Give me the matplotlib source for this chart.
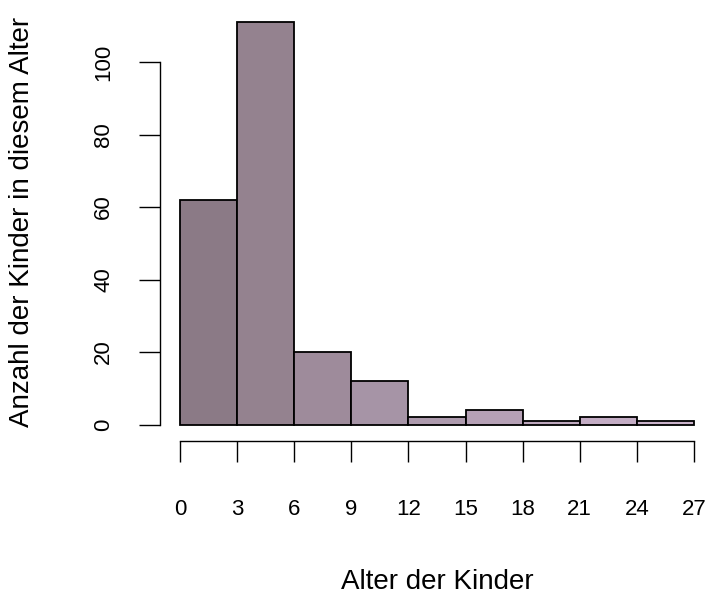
import matplotlib
matplotlib.use("Agg")
import matplotlib.pyplot as plt
import numpy as np

## Data ##
bin_edges = [0, 3, 6, 9, 12, 15, 18, 21, 24, 27]
counts = [62, 111, 20, 12, 2, 4, 1, 2, 1]
bar_colors = ["#8b7a86", "#94828f", "#9e8b9b", "#a694a6", "#ae9bae",
              "#b6a1b6", "#bea8be", "#c4adc5", "#cab3cb"]
x_ticks = [0, 3, 6, 9, 12, 15, 18, 21, 24, 27]
y_ticks = [0, 20, 40, 60, 80, 100]
x_label = "Alter der Kinder"
y_label = "Anzahl der Kinder in diesem Alter"
## Data ##

W, H = 706, 597
fig = plt.figure(figsize=(W / 100, H / 100), dpi=100)

# pixel geometry
x0_px, x27_px = 180, 694
y0_px, y100_px = 424.5, 62
ytop = 115
ytop_px = y0_px - ytop * (y0_px - y100_px) / 100

ax = fig.add_axes([x0_px / W, (H - y0_px) / H,
                   (x27_px - x0_px) / W, (y0_px - ytop_px) / H])

lefts = np.array(bin_edges[:-1])
widths = np.diff(bin_edges)
ax.bar(lefts, counts, width=widths, align="edge", color=bar_colors,
       edgecolor="black", linewidth=1.3, clip_on=False)

ax.set_xlim(0, 27)
ax.set_ylim(0, ytop)

for side in ("top", "right"):
    ax.spines[side].set_visible(False)
ax.spines["bottom"].set_position(("outward", 16 * 0.72))
ax.spines["left"].set_position(("outward", 20 * 0.72))
ax.spines["bottom"].set_bounds(0, 27)
ax.spines["left"].set_bounds(0, 100)
ax.spines["bottom"].set_linewidth(1.0)
ax.spines["left"].set_linewidth(1.0)

tick_font = ["Liberation Sans Narrow", "Liberation Sans", "DejaVu Sans"]
ax.set_xticks(x_ticks)
ax.set_yticks(y_ticks)
ax.tick_params(axis="x", length=15, width=1.0, pad=27, labelsize=16)
ax.tick_params(axis="y", length=15, width=1.0, pad=18, labelsize=16)
for lab in ax.get_xticklabels():
    lab.set_family(tick_font)
for lab in ax.get_yticklabels():
    lab.set_family(tick_font)
    lab.set_rotation(90)
    lab.set_va("center")

fig.text((x0_px + x27_px) / 2 / W, 1 - 582 / H, x_label,
         ha="center", va="center", fontsize=20,
         family=["Liberation Sans", "DejaVu Sans"])
fig.text(22 / W, 1 - 222 / H, y_label, rotation=90,
         ha="center", va="center", fontsize=20,
         family=["Liberation Sans", "DejaVu Sans"])

fig.savefig("out.png", dpi=100)
